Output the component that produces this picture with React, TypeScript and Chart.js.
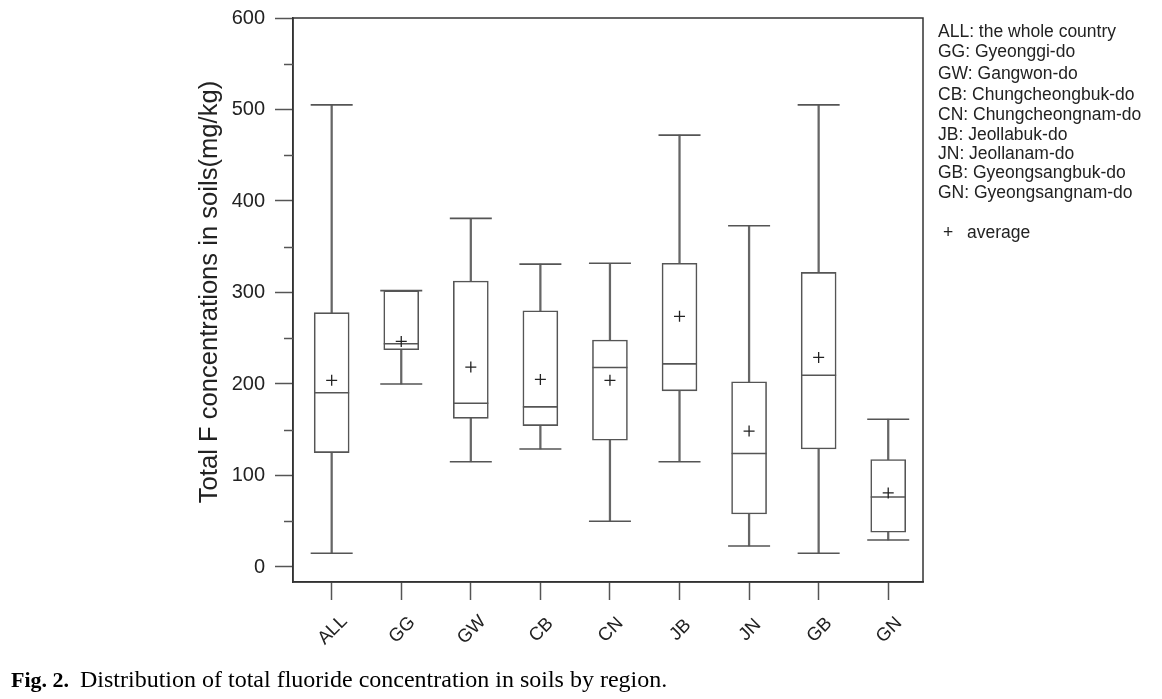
import React, { useEffect, useRef } from "react";
import { Chart, registerables } from "chart.js";

Chart.register(...registerables);

// ---- Data ----
const CATEGORIES = ["ALL", "GG", "GW", "CB", "CN", "JB", "JN", "GB", "GN"];
const MIN_VALUES = [15, 200, 115, 129, 50, 115, 23, 15, 29.5];
const Q1_VALUES = [125, 237.5, 162.5, 154.5, 138.5, 192.5, 58, 129, 38];
const MEDIAN_VALUES = [190.5, 244, 179, 175, 218, 222, 124, 209.5, 76.5];
const Q3_VALUES = [278, 302, 312.5, 280, 248, 332, 202.5, 322, 117.5];
const MAX_VALUES = [505, 302, 381, 331, 332, 472, 373, 505, 161.5];
const MEAN_VALUES = [204, 246.5, 218.5, 205, 204, 274, 148.5, 229, 81];

const Y_MAJOR_TICKS = [0, 100, 200, 300, 400, 500, 600];
const Y_MINOR_TICKS = [50, 150, 250, 350, 450, 550];

const Y_TITLE = "Total F concentrations in soils(mg/kg)";
const LEGEND_LINES = [
  "ALL: the whole country",
  "GG: Gyeonggi-do",
  "GW: Gangwon-do",
  "CB: Chungcheongbuk-do",
  "CN: Chungcheongnam-do",
  "JB: Jeollabuk-do",
  "JN: Jeollanam-do",
  "GB: Gyeongsangbuk-do",
  "GN: Gyeongsangnam-do",
];
const LEGEND_AVERAGE = "average";
const CAPTION_BOLD = "Fig. 2.";
const CAPTION_TEXT = "Distribution of total fluoride concentration in soils by region.";

// ---- Layout / style constants ----
const W = 1162;
const H = 699;
const SANS = '"Liberation Sans", Arial, Helvetica, sans-serif';
const SERIF = '"Liberation Serif", "Times New Roman", serif';
const LINE = "#555";
const FRAME = "#333";
const TEXT = "#222";
const LEGEND_Y = [31.7, 52, 74, 95, 115, 135, 154, 173.5, 193.5];

const overlayPlugin = {
  id: "overlay",
  afterDraw(chart: any) {
    const { ctx, chartArea } = chart;
    const xs = chart.scales.x;
    const ys = chart.scales.y;
    ctx.save();

    // frame
    ctx.strokeStyle = FRAME;
    ctx.lineWidth = 1.5;
    ctx.strokeRect(chartArea.left, chartArea.top, chartArea.right - chartArea.left, chartArea.bottom - chartArea.top);

    // minor y ticks
    ctx.strokeStyle = LINE;
    ctx.lineWidth = 1.5;
    for (const v of Y_MINOR_TICKS) {
      const y = Math.round(ys.getPixelForValue(v)) + 0.5;
      ctx.beginPath();
      ctx.moveTo(chartArea.left - 9, y);
      ctx.lineTo(chartArea.left, y);
      ctx.stroke();
    }

    // x labels, rotated 45deg, centred on tick
    ctx.fillStyle = TEXT;
    ctx.font = `18.5px ${SANS}`;
    ctx.textAlign = "center";
    ctx.textBaseline = "middle";
    CATEGORIES.forEach((c, i) => {
      const x = xs.getPixelForValue(i);
      ctx.save();
      ctx.translate(x + 1, chartArea.bottom + 48);
      ctx.rotate(-Math.PI / 4);
      ctx.fillText(c, 0, 0);
      ctx.restore();
    });

    // y title
    ctx.save();
    ctx.font = `25.6px ${SANS}`;
    ctx.translate(210, 292);
    ctx.rotate(-Math.PI / 2);
    ctx.fillText(Y_TITLE, 0, 0);
    ctx.restore();

    // legend
    ctx.font = `17.5px ${SANS}`;
    ctx.textAlign = "left";
    LEGEND_LINES.forEach((t, i) => {
      ctx.fillText(t, 938, LEGEND_Y[i]);
    });
    ctx.fillText("+", 943, 233);
    ctx.fillText(LEGEND_AVERAGE, 967, 233);

    // caption
    ctx.textBaseline = "alphabetic";
    ctx.fillStyle = "#000";
    ctx.font = `bold 22px ${SERIF}`;
    ctx.fillText(CAPTION_BOLD, 11, 687);
    ctx.font = `24px ${SERIF}`;
    ctx.fillText(CAPTION_TEXT, 80, 687);

    ctx.restore();
  },
};

export default function App() {
  const ref = useRef<HTMLCanvasElement | null>(null);

  useEffect(() => {
    if (!ref.current) return;
    const pts = (arr: number[]) => arr.map((v, i) => ({ x: i, y: v }));
    const chart = new Chart(ref.current, {
      type: "bar",
      data: {
        datasets: [
          {
            type: "scatter",
            label: "mean",
            data: pts(MEAN_VALUES),
            pointStyle: "cross",
            pointRadius: 5.5,
            borderColor: TEXT,
            backgroundColor: TEXT,
            borderWidth: 1.3,
            order: 0,
          } as any,
          {
            type: "scatter",
            label: "median",
            data: pts(MEDIAN_VALUES),
            pointStyle: "line",
            pointRadius: 17.5,
            borderColor: LINE,
            borderWidth: 1.6,
            order: 1,
          } as any,
          {
            type: "bar",
            label: "box",
            data: CATEGORIES.map((_, i) => ({ x: i, y: [Q1_VALUES[i], Q3_VALUES[i]] })),
            backgroundColor: "#fff",
            borderColor: LINE,
            borderWidth: 1.6,
            borderSkipped: false,
            barThickness: 35,
            grouped: false,
            order: 2,
          } as any,
          {
            type: "scatter",
            label: "caps",
            data: [...pts(MAX_VALUES), ...pts(MIN_VALUES)],
            pointStyle: "line",
            pointRadius: 21,
            borderColor: LINE,
            borderWidth: 1.6,
            order: 3,
          } as any,
          {
            type: "bar",
            label: "whisker",
            data: CATEGORIES.map((_, i) => ({ x: i, y: [MIN_VALUES[i], MAX_VALUES[i]] })),
            backgroundColor: "#666",
            borderWidth: 0,
            barThickness: 1.6,
            grouped: false,
            order: 4,
          } as any,
        ],
      },
      options: {
        responsive: false,
        animation: false,
        events: [],
        layout: { autoPadding: false, padding: { top: 18, right: W - 923, left: 0, bottom: 0 } },
        plugins: {
          legend: { display: false },
          tooltip: { enabled: false },
          title: { display: false },
        },
        scales: {
          x: {
            type: "linear",
            offset: false,
            min: -0.556,
            max: 8.5,
            afterBuildTicks: (s: any) => {
              s.ticks = CATEGORIES.map((_, i) => ({ value: i }));
            },
            afterFit: (s: any) => {
              s.height = H - 582;
              s.paddingLeft = 0;
              s.paddingRight = 0;
            },
            grid: { offset: false, drawOnChartArea: false, drawTicks: true, tickLength: 18, tickColor: LINE, tickWidth: 1.5 },
            border: { display: true, color: FRAME, width: 1.5 },
            ticks: { display: false },
          },
          y: {
            type: "linear",
            min: -16.4,
            max: 600,
            afterBuildTicks: (s: any) => {
              s.ticks = Y_MAJOR_TICKS.map((v) => ({ value: v }));
            },
            afterFit: (s: any) => {
              s.width = 293;
              s.paddingTop = 0;
              s.paddingBottom = 0;
            },
            grid: { drawOnChartArea: false, tickLength: 18, tickColor: LINE, tickWidth: 1.5 },
            border: { display: true, color: FRAME, width: 1.5 },
            ticks: { font: { family: SANS, size: 20 }, color: TEXT, padding: 10 },
          },
        },
      } as any,
      plugins: [overlayPlugin],
    });
    return () => chart.destroy();
  }, []);

  return (
    <div style={{ position: "fixed", left: 0, top: 0, width: W, height: H, background: "#fff" }}>
      <canvas ref={ref} width={W} height={H} style={{ width: W, height: H, display: "block" }} />
    </div>
  );
}
